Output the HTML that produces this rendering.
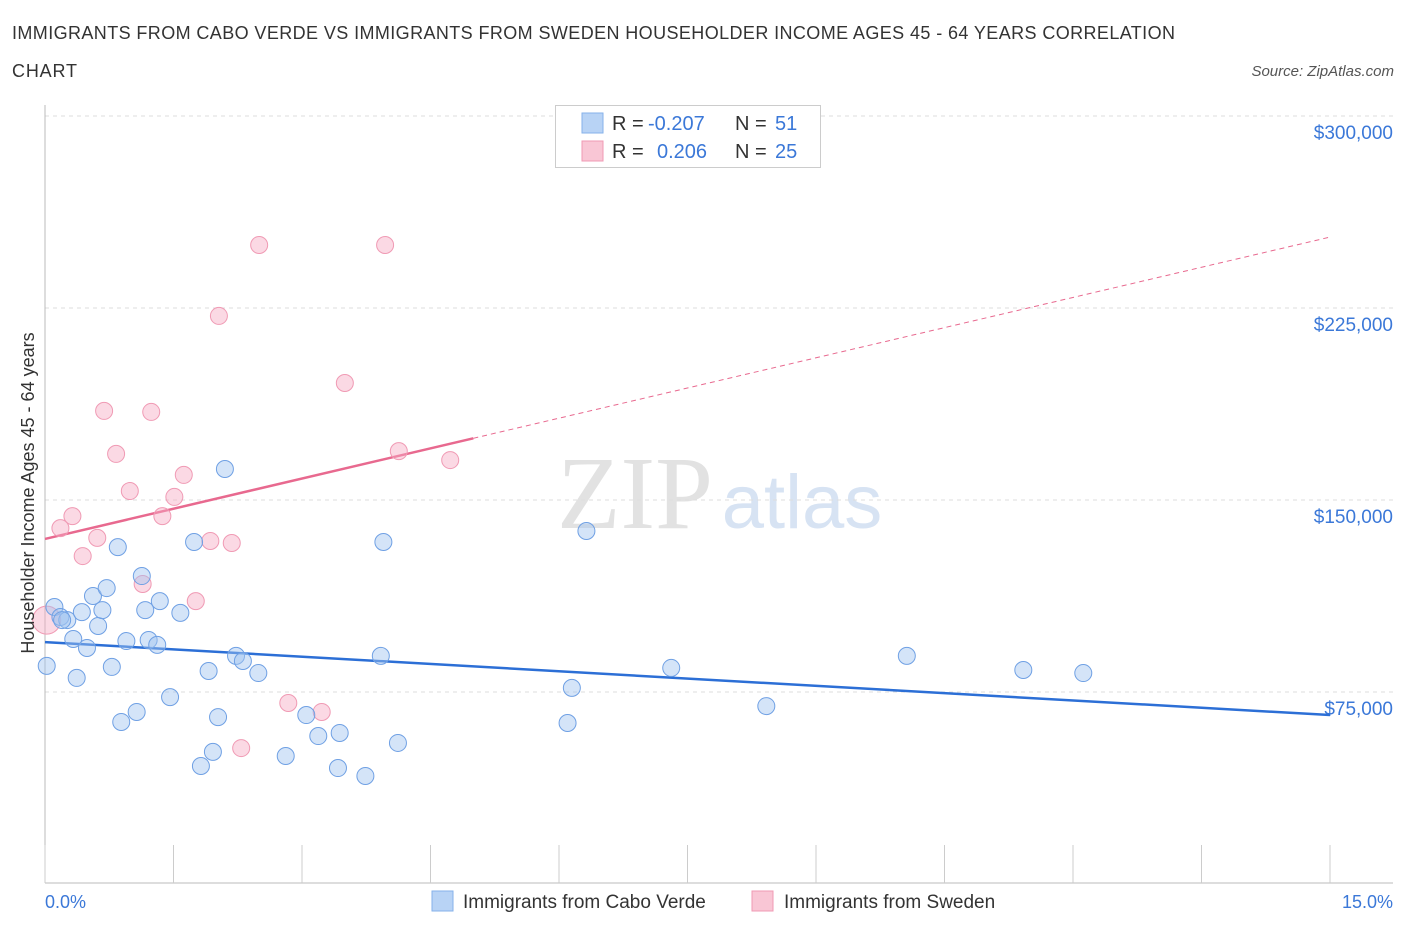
<!DOCTYPE html>
<html><head><meta charset="utf-8"><style>
body{margin:0;background:#fff;font-family:"Liberation Sans",sans-serif;}
svg{display:block}
</style></head><body>
<svg id="chart" width="1406" height="930" xmlns="http://www.w3.org/2000/svg">
<text x="12" y="39" font-size="18" fill="#333" textLength="1163" lengthAdjust="spacing">IMMIGRANTS FROM CABO VERDE VS IMMIGRANTS FROM SWEDEN HOUSEHOLDER INCOME AGES 45 - 64 YEARS CORRELATION</text>
<text x="12" y="77" font-size="18" fill="#333" textLength="65" lengthAdjust="spacing">CHART</text>
<text x="1394" y="76" font-size="15" fill="#555" font-style="italic" text-anchor="end">Source: ZipAtlas.com</text>
<g id="watermark">
<text x="635" y="528" font-size="104" font-family="Liberation Serif,serif" fill="#e2e2e2" text-anchor="middle">ZIP</text>
<text x="802" y="528" font-size="76" fill="#d7e3f3" text-anchor="middle">atlas</text>
</g>
<g id="grid"></g>
<g id="axes"></g>
<g id="trends"></g>
<g id="points"></g>
<text transform="translate(34,493) rotate(-90)" font-size="18" fill="#333" text-anchor="middle">Householder Income Ages 45 - 64 years</text>
<text x="45" y="908" font-size="18" fill="#3b78d8">0.0%</text>
<text x="1393" y="908" font-size="18" fill="#3b78d8" text-anchor="end">15.0%</text>
<g>
<rect x="555.5" y="105.5" width="265" height="62" fill="#fff" stroke="#ccc"/>
<rect x="582" y="113" width="21" height="20" fill="#b8d3f5" stroke="#86b1ea"/>
<rect x="582" y="141" width="21" height="20" fill="#f9c6d5" stroke="#f09ab4"/>
<text x="612" y="130" font-size="20" fill="#333">R = </text><text x="648" y="130" font-size="20" fill="#3b78d8">-0.207</text>
<text x="735" y="130" font-size="20" fill="#333">N = </text><text x="775" y="130" font-size="20" fill="#3b78d8">51</text>
<text x="612" y="158" font-size="20" fill="#333">R = </text><text x="657" y="158" font-size="20" fill="#3b78d8">0.206</text>
<text x="735" y="158" font-size="20" fill="#333">N = </text><text x="775" y="158" font-size="20" fill="#3b78d8">25</text>
</g>
<g>
<rect x="432" y="891" width="21" height="20" fill="#b8d3f5" stroke="#86b1ea"/>
<text x="463" y="908" font-size="19" fill="#333">Immigrants from Cabo Verde</text>
<rect x="752" y="891" width="21" height="20" fill="#f9c6d5" stroke="#f09ab4"/>
<text x="784" y="908" font-size="19" fill="#333">Immigrants from Sweden</text>
</g>
</svg>
<script>
const yTicks=[75000,150000,225000,300000];
const yTickLabels=["$75,000","$150,000","$225,000","$300,000"];
const blueX=[0.02,0.11,0.18,0.26,0.33,0.37,0.43,0.49,0.56,0.62,0.67,0.72,0.78,0.85,0.89,0.95,1.07,1.13,1.17,1.21,1.31,1.34,1.46,1.58,1.74,1.82,1.91,1.96,2.02,2.10,2.23,2.31,2.49,2.81,3.05,3.19,3.42,3.44,3.74,3.92,3.95,4.12,6.10,6.15,6.32,7.31,8.42,10.06,11.42,12.12,0.20];
const blueY=[85200,108200,104300,103100,95700,80500,106200,92200,112500,100800,107000,115600,84800,131600,63300,94900,67200,120300,107000,95300,93400,110500,73000,105900,133600,46100,83200,51600,65200,162100,89100,87100,82400,50000,66000,57800,45300,59000,42200,89100,133600,55100,62900,76600,137900,84400,69500,89100,83600,82400,103100];
const pinkX=[0.02,0.18,0.32,0.44,0.61,0.69,0.83,0.99,1.14,1.24,1.37,1.51,1.62,1.76,1.93,2.03,2.18,2.29,2.50,2.84,3.23,3.50,3.97,4.13,4.73];
const pinkY=[103100,139000,143700,128100,135200,184800,168000,153500,117200,184400,143700,151200,159800,110500,134000,221900,133200,53100,249600,70700,67200,195700,249600,169100,165600];
const blueTrend=[94500,66000];
const pinkTrend=[134800,252700];
const NS="http://www.w3.org/2000/svg";
const X0=45,X1=1330,Y75=692,PX=192/75000;
function sx(p){return X0+(X1-X0)*p/15;}
function sy(v){return Y75-(v-75000)*PX;}
function mk(tag,attrs,parent){const e=document.createElementNS(NS,tag);for(const k in attrs)e.setAttribute(k,attrs[k]);document.getElementById(parent).appendChild(e);return e;}
yTicks.forEach((t,i)=>{
 const l=mk('line',{x1:45,x2:1393,y1:sy(t),y2:sy(t),stroke:'#ddd','stroke-dasharray':'4,4'},'grid');
 
 
 const tx=mk('text',{x:1393,y:sy(t)+23,'font-size':19,fill:'#3b78d8','text-anchor':'end'},'grid');
 tx.textContent=yTickLabels[i];
 
 
});
const ax=mk('line',{x1:45,x2:1393,y1:883,y2:883,stroke:'#bbb'},'axes');


const ay=mk('line',{x1:45,x2:45,y1:105,y2:883,stroke:'#bbb'},'axes');


for(let i=0;i<=10;i++){const t=mk('line',{x1:sx(i*1.5),x2:sx(i*1.5),y1:845,y2:883,stroke:'#ccc'},'axes');
 
 }
const bt=mk('line',{x1:sx(0),y1:sy(blueTrend[0]),x2:sx(15),y2:sy(blueTrend[1]),stroke:'#2c6fd6','stroke-width':2.5},'trends');


const pv=p=>pinkTrend[0]+(pinkTrend[1]-pinkTrend[0])*p/15;
const pt=mk('line',{x1:sx(0),y1:sy(pv(0)),x2:sx(5),y2:sy(pv(5)),stroke:'#e8698f','stroke-width':2.5},'trends');


const pd=mk('line',{x1:sx(5),y1:sy(pv(5)),x2:sx(15),y2:sy(pv(15)),stroke:'#e8698f','stroke-width':1,'stroke-dasharray':'5,4'},'trends');


pinkX.forEach((x,i)=>{const c=mk('circle',{cx:sx(x),cy:sy(pinkY[i]),r:i===0?14:8.5,fill:'rgba(246,170,195,0.45)',stroke:'#f09ab4','stroke-width':1},'points');
 
 });
blueX.forEach((x,i)=>{const c=mk('circle',{cx:sx(x),cy:sy(blueY[i]),r:8.5,fill:'rgba(160,196,240,0.45)',stroke:'#6fa0e4','stroke-width':1},'points');
 
 });
</script>
</body></html>
